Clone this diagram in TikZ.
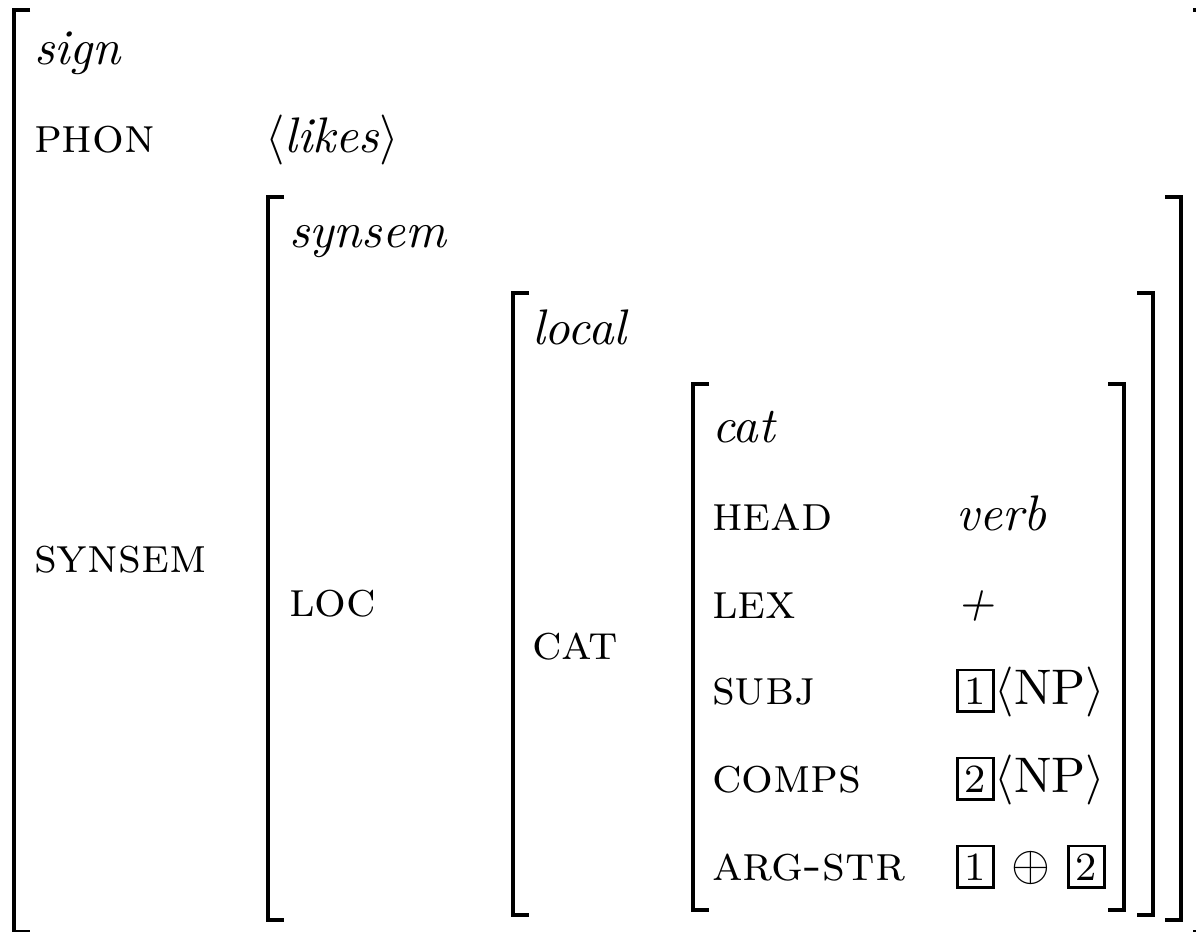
\documentclass[tikz,border=0pt]{standalone}
\usepackage{amsmath, amssymb}
\usepackage{tikz}

\newcommand{\tagnum}[1]{{\setlength{\fboxsep}{1.2pt}\setlength{\fboxrule}{0.55pt}\fbox{\footnotesize #1}}}

\tikzset{
  feat/.style={anchor=base west, inner sep=0pt},
  brk/.style={line width=0.8pt}
}

\begin{document}
\begin{tikzpicture}[x=0.2pt, y=-0.2pt]
\useasboundingbox (0,0) rectangle (1196,931);

% outer bracket: sign
\draw[brk] (30,10) -- (14,10) -- (14,932) -- (30,932);
\draw[brk] (1193,10) -- (1209,10) -- (1209,932) -- (1193,932);

\node[feat] (sign) at (33,65) {\textit{sign}};
\node[feat] (phon) at (33,153) {\textsc{phon}};
\node[feat] (likes) at (264,153) {$\langle\textit{likes}\rangle$};
\node[feat] (synsemf) at (33,572) {\textsc{synsem}};

% synsem
\draw[brk] (284,197) -- (268,197) -- (268,920) -- (284,920);
\draw[brk] (1165,197) -- (1181,197) -- (1181,920) -- (1165,920);

\node[feat] (synsem) at (288,248) {\textit{synsem}};
\node[feat] (loc) at (288,616) {\textsc{loc}};

% local
\draw[brk] (529,293) -- (513,293) -- (513,915) -- (529,915);
\draw[brk] (1137,293) -- (1153,293) -- (1153,915) -- (1137,915);

\node[feat] (local) at (531,345) {\textit{local}};
\node[feat] (catf) at (531,659) {\textsc{cat}};

% cat
\draw[brk] (709,384) -- (693,384) -- (693,910) -- (709,910);
\draw[brk] (1108,384) -- (1124,384) -- (1124,910) -- (1108,910);

\node[feat] (cat) at (711,442) {\textit{cat}};

\node[feat] (head) at (711,530) {\textsc{head}};
\node[feat] (verb) at (955,530) {\textit{verb}};

\node[feat] (lex) at (711,618) {\textsc{lex}};
\node[feat] (plus) at (955,618) {\textit{+}};

\node[feat] (subj) at (711,704) {\textsc{subj}};
\node[feat] (np1) at (955,704) {\tagnum{1}$\langle\mathrm{NP}\rangle$};

\node[feat] (comps) at (711,792) {\textsc{comps}};
\node[feat] (np2) at (955,792) {\tagnum{2}$\langle\mathrm{NP}\rangle$};

\node[feat] (argstr) at (711,880) {\textsc{arg-str}};
\node[feat] (args) at (955,880) {\tagnum{1} $\oplus$ \tagnum{2}};

\end{tikzpicture}
\end{document}
